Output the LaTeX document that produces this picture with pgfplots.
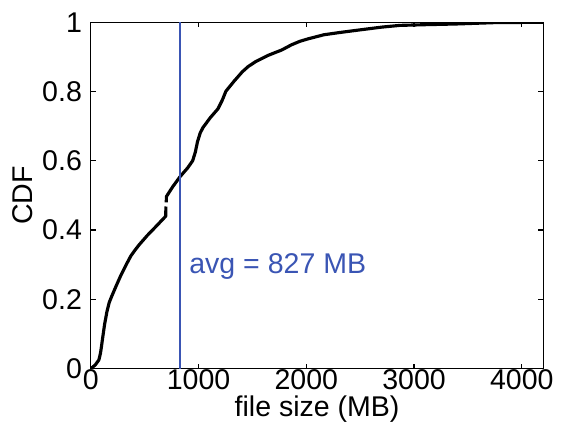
\documentclass[border=3pt]{standalone}
\usepackage{fontspec}
\setmainfont{Liberation Sans}
\usepackage{pgfplots}
\pgfplotsset{compat=1.18}
\definecolor{avgblue}{HTML}{3A55B4}

\begin{document}
\begin{tikzpicture}
\begin{axis}[
  scale only axis,
  width=230pt, height=176pt,
  xmin=0, xmax=4200, ymin=0, ymax=1,
  xtick={0,1000,2000,3000,4000},
  ytick={0,0.2,0.4,0.6,0.8,1},
  yticklabels={0,0.2,0.4,0.6,0.8,1},
  scaled ticks=false,
  /pgf/number format/1000 sep={},
  /pgf/number format/assume math mode=true,
  tick align=inside, tick pos=both,
  major tick length=2.5pt,
  axis line style={line width=0.6pt},
  every tick/.style={black, line width=0.6pt},
  ticklabel style={font=\fontsize{14.5}{16}\selectfont},
  label style={font=\fontsize{14.5}{16}\selectfont},
  xticklabel style={yshift=3pt},
  yticklabel style={xshift=-1pt},
  xlabel={file size (MB)},
  ylabel={CDF},
  xlabel style={yshift=4pt},
  ylabel style={yshift=-2pt},
]
% lower part of the CDF, up to the small break near 700 MB
\addplot[black, line width=1.6pt, line join=round] coordinates {
  (0,0) (40,0.01) (75,0.025) (90,0.045) (98,0.062) (115,0.1) (128,0.128)
  (150,0.165) (170,0.19) (189,0.205) (230,0.235) (280,0.27) (325,0.298)
  (371,0.325) (410,0.342) (450,0.358) (523,0.384) (610,0.412) (680,0.435)
  (695,0.44) (697,0.468)
};
% upper part of the CDF
\addplot[black, line width=1.6pt, line join=round] coordinates {
  (700,0.48) (702,0.497) (760,0.525) (828,0.554) (900,0.58) (945,0.6)
  (970,0.625) (990,0.655) (1015,0.68) (1041,0.696) (1110,0.725)
  (1180,0.75) (1220,0.775) (1254,0.801) (1330,0.83) (1406,0.857)
  (1460,0.872) (1528,0.886) (1650,0.905) (1772,0.92) (1863,0.935)
  (1940,0.945) (2015,0.952) (2164,0.964) (2300,0.97) (2472,0.977)
  (2700,0.986) (2868,0.991) (3100,0.993) (3385,0.995) (3750,0.999) (4200,1)
};
% mean file size
\addplot[avgblue, line width=0.7pt] coordinates {(827,0) (827,1)};
\node[anchor=west, text=avgblue, font=\fontsize{14.5}{16}\selectfont]
  at (axis cs:850,0.295) {avg = 827 MB};
\end{axis}
\end{tikzpicture}
\end{document}
